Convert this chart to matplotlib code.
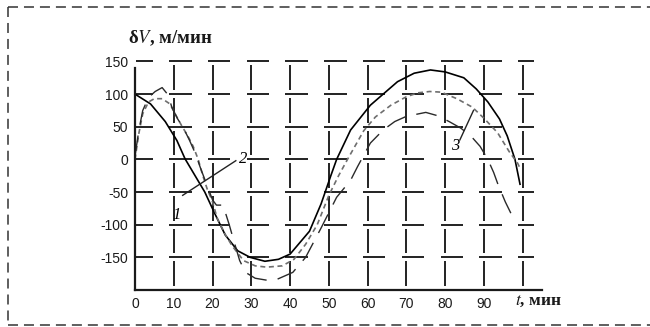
import matplotlib
matplotlib.use('Agg')
import matplotlib.pyplot as plt
from matplotlib.lines import Line2D

plt.rcParams['lines.scale_dashes'] = False
plt.rcParams['mathtext.fontset'] = 'stix'

# curve 1 (solid)
t1 = [0, 4, 7.8, 10.8, 12.9, 15.5, 18, 20.5, 23.3, 26.5, 29.7, 33.5, 37, 40, 45, 48, 50.5,
      52, 55.6, 60.7, 67.7, 72, 76.2, 80, 84.8, 88, 91, 94, 96, 98, 99.3]
v1 = [100, 85, 58, 29, 1, -25, -50, -82, -116, -140, -150, -156, -153, -145, -110, -68, -25,
      0, 45, 83, 119, 132, 137, 134, 125, 108, 88, 62, 36, 0, -38]

# curve 2 (short dash)
t2 = [0, 1, 2, 3.5, 5, 7, 9, 10.5, 12, 13.7, 15, 16.3, 17.5, 18.6, 20, 21.2, 23, 25, 28, 31,
      34, 38, 41, 44, 47, 50, 52.5, 54.8, 59, 62, 66, 70, 73, 76, 79, 83, 87, 90, 93.5, 96.5,
      98.7, 99.5]
v2 = [0, 40, 70, 88, 93, 93, 85, 68, 52, 35, 20, 0, -25, -45, -65, -90, -112, -132, -155, -163,
      -165, -163, -153, -130, -100, -55, -25, 0, 44, 65, 83, 96, 102, 104, 103, 93, 80, 63, 41, 12,
      -6, -16]

# curve 3 (long dash)
t3 = [0, 1, 2, 3.5, 5.2, 7, 8.5, 9.5, 11, 12.5, 14, 15.5, 17, 18.6, 20, 21, 22.7, 23.5, 24.3,
      25.5, 27, 28.5, 31, 34, 36.5, 40.7, 44, 48, 52, 55.6, 57.4, 60.7, 64, 67, 70, 75, 78, 81,
      84, 86.6, 89, 91, 92.5, 93.6, 95.5, 97.4]
v3 = [5, 45, 75, 95, 104, 110, 99, 80, 62, 48, 30, 10, -15, -40, -62, -70, -70, -85, -100,
      -125, -155, -173, -182, -185, -184, -173, -150, -105, -58, -32, -11, 25, 45, 58, 66, 72, 67, 58,
      48, 36, 20, 0, -20, -38, -65, -88]

xticks = [0, 10, 20, 30, 40, 50, 60, 70, 80, 90]
yticks = [150, 100, 50, 0, -50, -100, -150]
ytick_labels = ['150', '100', '50', '0', '-50', '-100', '-150']
grid_x = [10, 20, 30, 40, 50, 60, 70, 80, 90, 100]

fig = plt.figure(figsize=(6.5, 3.27), dpi=100)
ax = fig.add_axes([135 / 650, 37 / 327, 411 / 650, 231.8 / 327])
ax.set_xlim(0, 106)
ax.set_ylim(-200, 155)
ax.patch.set_alpha(0)

gcol = '#222222'
# broken grid
for gy in yticks:
    for gx in [0] + grid_x:
        a = max(gx - 1.2, 0.3)
        b = min(gx + 4.6, 103)
        ax.plot([a, b], [gy, gy], color=gcol, lw=1.4, solid_capstyle='butt', clip_on=False)
for gx in grid_x:
    for gy in [-200, -150, -100, -50, 0, 50, 100]:
        ax.plot([gx, gx], [gy + 6, gy + 44], color=gcol, lw=1.4, solid_capstyle='butt',
                clip_on=False)

ax.plot(t1, v1, color='black', lw=1.2, clip_on=False)
ax.plot(t2, v2, color='#6e6e6e', lw=1.2, dashes=(3.6, 2.6), clip_on=False)
ax.plot(t3, v3, color='#2a2a2a', lw=1.0, dashes=(15, 8), clip_on=False)

# leaders and curve numbers
ax.plot([12.3, 26], [-55, -2], color='#222222', lw=1.0)
ax.plot([83.8, 87.3], [30, 75], color='#222222', lw=1.0)
lab = dict(fontfamily='Liberation Serif', fontstyle='italic', fontsize=12, ha='center', va='center')
ax.text(10.8, -85, '1', **lab)
ax.text(28.0, 1, '2', **lab)
ax.text(82.5, 20, '3', **lab)

for s in ['top', 'right']:
    ax.spines[s].set_visible(False)
ax.spines['left'].set_bounds(-200, 140)
ax.spines['bottom'].set_bounds(0, 105)
ax.spines['left'].set_linewidth(1.6)
ax.spines['bottom'].set_linewidth(1.6)
ax.spines['left'].set_color('#1a1a1a')
ax.spines['bottom'].set_color('#1a1a1a')

ax.set_xticks(xticks)
ax.set_xticklabels([str(v) for v in xticks])
ax.set_yticks(yticks)
ax.set_yticklabels(ytick_labels)
ax.tick_params(length=0, labelsize=10, pad=5, colors='#1a1a1a')
for lbl in ax.get_xticklabels() + ax.get_yticklabels():
    lbl.set_fontfamily('Liberation Sans')

fig.text(128 / 650, 1 - 38 / 327, r'δ$V$, м/мин', fontfamily='Liberation Serif',
         fontsize=13.5, fontweight='bold', ha='left', va='center', color='#1a1a1a')
fig.text(515 / 650, 1 - 301 / 327, r'$t$, мин', fontfamily='Liberation Serif',
         fontsize=12.5, fontweight='bold', ha='left', va='center', color='#1a1a1a')

# dashed outer frame (no right side)
fx0, fy0, fy1 = 7.5 / 650, 1 - 7 / 327, 1 - 325 / 327
frame = dict(color='#333333', lw=1.1, dashes=(7.2, 4.3), transform=fig.transFigure)
fig.add_artist(Line2D([fx0, 1.0], [fy0, fy0], **frame))
fig.add_artist(Line2D([fx0, 1.0], [fy1, fy1], **frame))
fig.add_artist(Line2D([fx0, fx0], [fy0, fy1], **frame))

fig.savefig('out.png', dpi=100)
